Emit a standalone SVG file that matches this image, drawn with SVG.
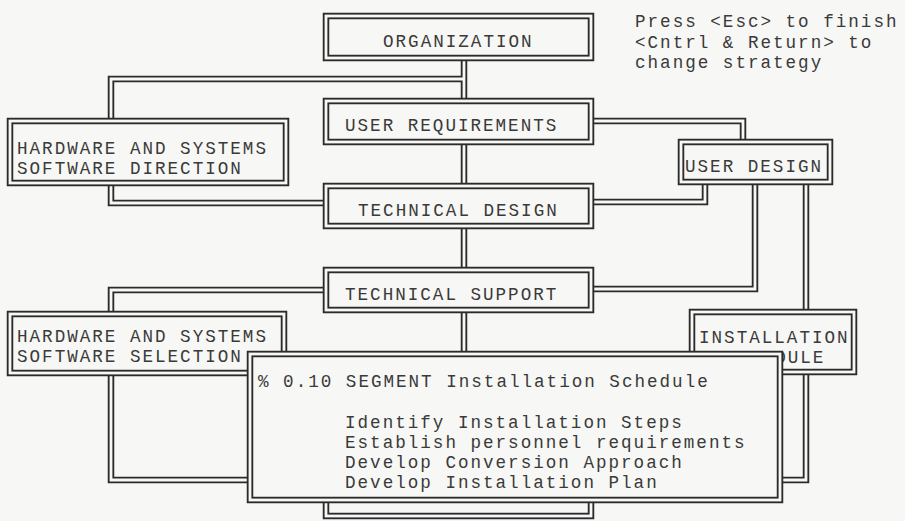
<svg xmlns="http://www.w3.org/2000/svg" width="905" height="521" viewBox="0 0 905 521">
<style>
.c1{fill:none;stroke:#2b2b2b;stroke-width:6.5;stroke-linejoin:miter}
.c2{fill:none;stroke:#f7f7f5;stroke-width:2.8;stroke-linejoin:miter}
.b1{fill:#f7f7f5;stroke:#2b2b2b;stroke-width:6.5}
.b2{fill:none;stroke:#f7f7f5;stroke-width:2.8}
.t{font-family:"Liberation Mono","DejaVu Sans Mono",monospace;font-size:17.6px;letter-spacing:1.99px;fill:#3a3a3a}
</style>
<rect x="0" y="0" width="905" height="521" fill="#f7f7f5"/>
<g id="connectors">
<g class="c1">
<path d="M464,58 V101"/>
<path d="M111,121 V79 H464"/>
<path d="M464,142 V186"/>
<path d="M111,183 V203 H326"/>
<path d="M591,121 H743 V142"/>
<path d="M705,182 V202 H591"/>
<path d="M464,226 V270"/>
<path d="M755,182 V289 H589"/>
<path d="M806,182 V312"/>
<path d="M326,290 H111 V314"/>
<path d="M464,310 V360"/>
<path d="M111,373 V480 H260"/>
<path d="M806,372 V480 H770"/>
</g>
<g class="c2">
<path d="M464,58 V101"/>
<path d="M111,121 V79 H464"/>
<path d="M464,142 V186"/>
<path d="M111,183 V203 H326"/>
<path d="M591,121 H743 V142"/>
<path d="M705,182 V202 H591"/>
<path d="M464,226 V270"/>
<path d="M755,182 V289 H589"/>
<path d="M806,182 V312"/>
<path d="M326,290 H111 V314"/>
<path d="M464,310 V360"/>
<path d="M111,373 V480 H260"/>
<path d="M806,372 V480 H770"/>
</g>
</g>
<g id="note">
<text class="t" x="635" y="27">Press &lt;Esc&gt; to finish</text>
<text class="t" x="635" y="47.5">&lt;Cntrl &amp; Return&gt; to</text>
<text class="t" x="635" y="68">change strategy</text>
</g>
<g id="organization">
<rect class="b1" x="326" y="16" width="265" height="42"/>
<rect class="b2" x="326" y="16" width="265" height="42"/>
<text class="t" x="383" y="47">ORGANIZATION</text>
</g>
<g id="user-requirements">
<rect class="b1" x="326" y="101" width="265" height="41"/>
<rect class="b2" x="326" y="101" width="265" height="41"/>
<text class="t" x="345" y="131">USER REQUIREMENTS</text>
</g>
<g id="hw-direction">
<rect class="b1" x="10" y="121" width="276" height="62"/>
<rect class="b2" x="10" y="121" width="276" height="62"/>
<text class="t" x="17" y="154">HARDWARE AND SYSTEMS</text>
<text class="t" x="17" y="174">SOFTWARE DIRECTION</text>
</g>
<g id="user-design">
<rect class="b1" x="681" y="142" width="149" height="40"/>
<rect class="b2" x="681" y="142" width="149" height="40"/>
<text class="t" x="685" y="172">USER DESIGN</text>
</g>
<g id="technical-design">
<rect class="b1" x="326" y="186" width="265" height="40"/>
<rect class="b2" x="326" y="186" width="265" height="40"/>
<text class="t" x="358" y="216">TECHNICAL DESIGN</text>
</g>
<g id="technical-support">
<rect class="b1" x="326" y="270" width="265" height="40"/>
<rect class="b2" x="326" y="270" width="265" height="40"/>
<text class="t" x="345" y="300">TECHNICAL SUPPORT</text>
</g>
<g id="hw-selection">
<rect class="b1" x="10" y="314" width="274" height="59"/>
<rect class="b2" x="10" y="314" width="274" height="59"/>
<text class="t" x="17" y="342">HARDWARE AND SYSTEMS</text>
<text class="t" x="17" y="362">SOFTWARE SELECTION</text>
</g>
<g id="installation-schedule">
<rect class="b1" x="692" y="312" width="162" height="60"/>
<rect class="b2" x="692" y="312" width="162" height="60"/>
<text class="t" x="699" y="343">INSTALLATION</text>
<text class="t" x="725" y="363">SCHEDULE</text>
</g>
<g id="bottom-node">
<rect class="b1" x="326" y="470" width="265" height="46"/>
<rect class="b2" x="326" y="470" width="265" height="46"/>
</g>
<g id="segment-popup">
<rect class="b1" x="250" y="354" width="530" height="146"/>
<rect class="b2" x="250" y="354" width="530" height="146"/>
<text class="t" x="258" y="387">% 0.10 SEGMENT Installation Schedule</text>
<text class="t" x="345" y="428">Identify Installation Steps</text>
<text class="t" x="345" y="448">Establish personnel requirements</text>
<text class="t" x="345" y="468">Develop Conversion Approach</text>
<text class="t" x="345" y="488">Develop Installation Plan</text>
</g>
</svg>
